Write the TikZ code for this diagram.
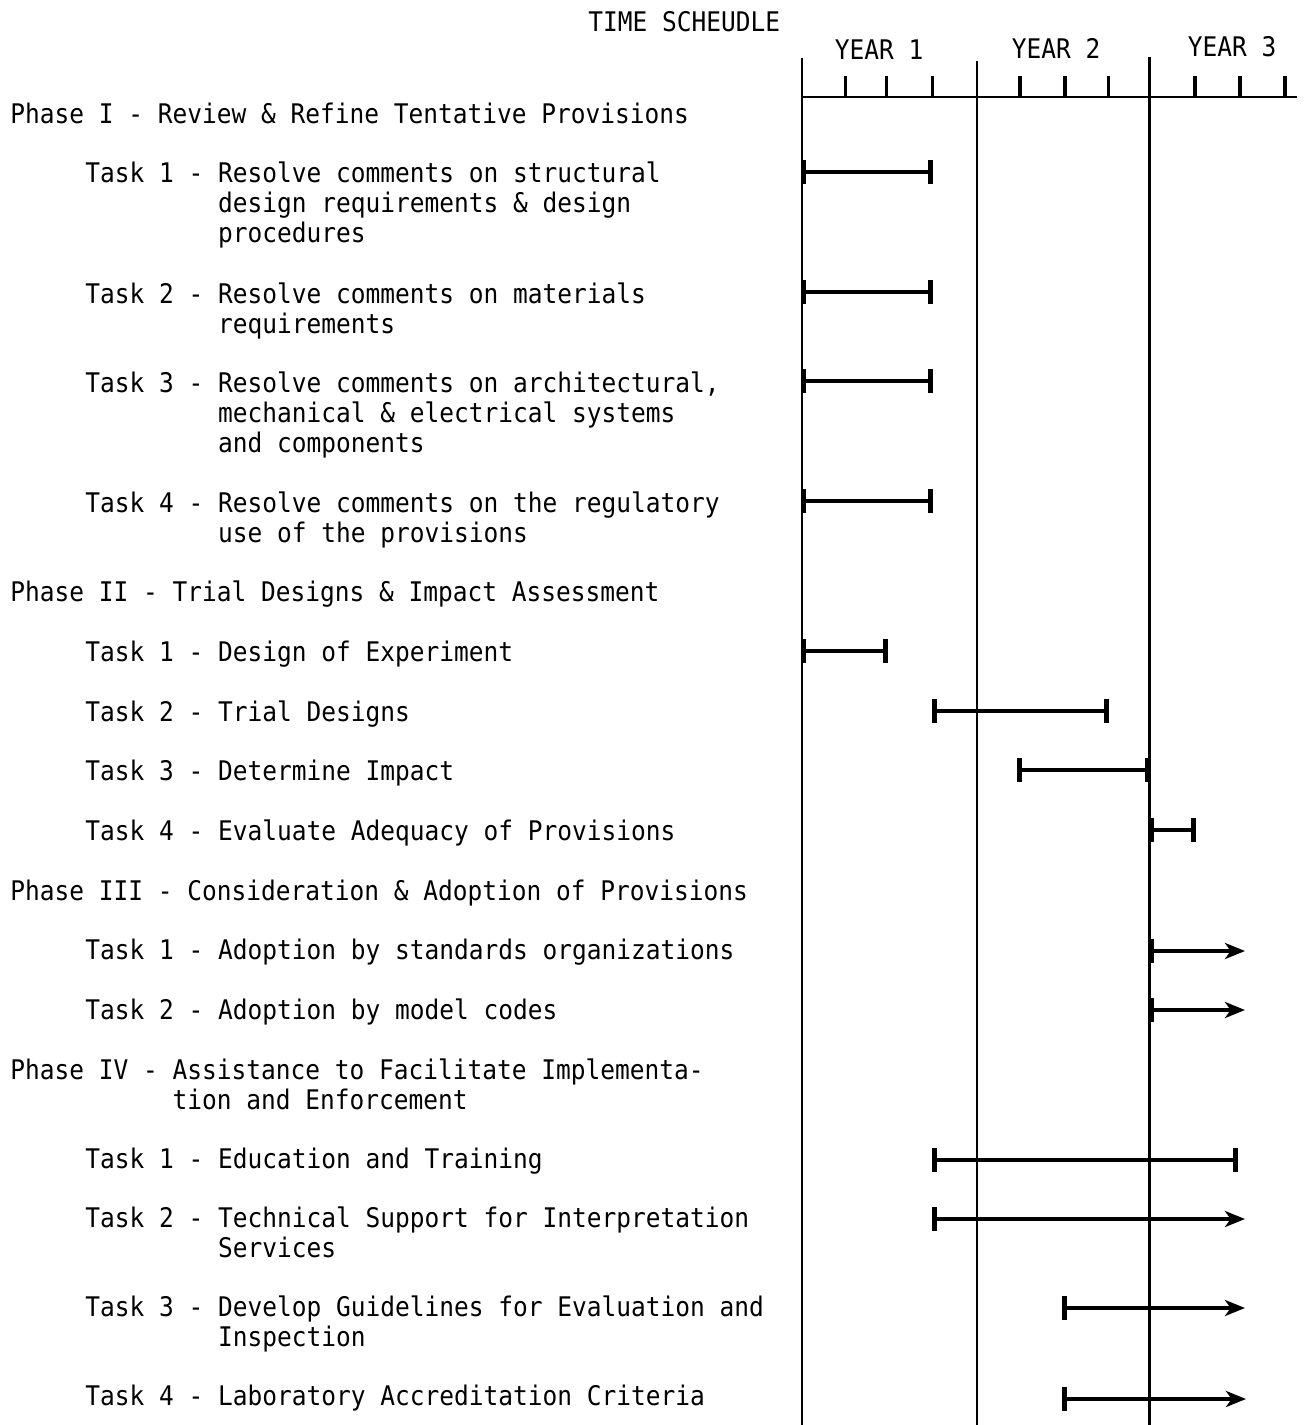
\documentclass[tikz,border=0pt]{standalone}
\usepackage{fontspec}
\newfontfamily\lgfont{DejaVu Sans Mono}[FakeStretch=0.9075]
\usetikzlibrary{arrows.meta}
\begin{document}
\begin{tikzpicture}[x=0.5pt,y=-0.5pt,
  txt/.style={anchor=base west, inner sep=0pt, font=\lgfont\fontsize{13.5pt}{15pt}\selectfont},
  ylab/.style={anchor=base, inner sep=0pt, font=\lgfont\fontsize{13.5pt}{15pt}\selectfont},
  gridline/.style={line width=1.2pt},
  tick/.style={line width=1.7pt},
  bar/.style={line width=2.3pt},
  capbar/.style={bar, {Bar[width=12pt,line width=2.3pt]}-{Bar[width=12pt,line width=2.3pt]}},
  caparr/.style={bar, {Bar[width=12pt,line width=2.3pt]}-{Stealth[length=10pt,width=8pt,inset=2.8pt]}},
]
\useasboundingbox (0,0) rectangle (1309,1425);

% header
\node[txt] (title) at (588,31) {TIME SCHEUDLE};
\node[ylab] (y1) at (879,59) {YEAR 1};
\node[ylab] (y2) at (1056,58) {YEAR 2};
\node[ylab] (y3) at (1232,56) {YEAR 3};

% grid
\draw[gridline] (801.7,58) -- (801.7,1425);
\draw[gridline] (976.7,61) -- (976.7,1425);
\draw[gridline] (1149.5,57) -- (1149.5,1425);
\draw[gridline] (801.7,97) -- (1297,97);
\foreach \x in {845.7,886.7,932.3,1020,1065,1108.3,1195,1240,1285}
  \draw[tick] (\x,76) -- (\x,97);

% Phase I
\node[txt] (p1) at (10,123) {Phase I - Review \& Refine Tentative Provisions};
\node[txt] (p1t1a) at (85,182) {Task 1 - Resolve comments on structural};
\node[txt] (p1t1b) at (85,212) {\hphantom{Task 1 - }design requirements \& design};
\node[txt] (p1t1c) at (85,242) {\hphantom{Task 1 - }procedures};
\node[txt] (p1t2a) at (85,303) {Task 2 - Resolve comments on materials};
\node[txt] (p1t2b) at (85,333) {\hphantom{Task 2 - }requirements};
\node[txt] (p1t3a) at (85,392) {Task 3 - Resolve comments on architectural,};
\node[txt] (p1t3b) at (85,422) {\hphantom{Task 3 - }mechanical \& electrical systems};
\node[txt] (p1t3c) at (85,452) {\hphantom{Task 3 - }and components};
\node[txt] (p1t4a) at (85,512) {Task 4 - Resolve comments on the regulatory};
\node[txt] (p1t4b) at (85,542) {\hphantom{Task 4 - }use of the provisions};

% Phase II
\node[txt] (p2) at (10,601) {Phase II - Trial Designs \& Impact Assessment};
\node[txt] (p2t1) at (85,661) {Task 1 - Design of Experiment};
\node[txt] (p2t2) at (85,721) {Task 2 - Trial Designs};
\node[txt] (p2t3) at (85,780) {Task 3 - Determine Impact};
\node[txt] (p2t4) at (85,840) {Task 4 - Evaluate Adequacy of Provisions};

% Phase III
\node[txt] (p3) at (10,900) {Phase III - Consideration \& Adoption of Provisions};
\node[txt] (p3t1) at (85,959) {Task 1 - Adoption by standards organizations};
\node[txt] (p3t2) at (85,1019) {Task 2 - Adoption by model codes};

% Phase IV
\node[txt] (p4a) at (10,1079) {Phase IV - Assistance to Facilitate Implementa-};
\node[txt] (p4b) at (10,1109) {\hphantom{Phase IV - }tion and Enforcement};
\node[txt] (p4t1) at (85,1168) {Task 1 - Education and Training};
\node[txt] (p4t2a) at (85,1227) {Task 2 - Technical Support for Interpretation};
\node[txt] (p4t2b) at (85,1257) {\hphantom{Task 2 - }Services};
\node[txt] (p4t3a) at (85,1316) {Task 3 - Develop Guidelines for Evaluation and};
\node[txt] (p4t3b) at (85,1346) {\hphantom{Task 3 - }Inspection};
\node[txt] (p4t4) at (85,1405) {Task 4 - Laboratory Accreditation Criteria};

% bars
\draw[capbar] (801.7,172) -- (933,172);
\draw[capbar] (801.7,292) -- (933,292);
\draw[capbar] (801.7,381) -- (933,381);
\draw[capbar] (801.7,501) -- (933,501);
\draw[capbar] (801.7,651) -- (888,651);
\draw[capbar] (932,711) -- (1109,711);
\draw[capbar] (1017,770) -- (1149.5,770);
\draw[capbar] (1149.5,830) -- (1196,830);
\draw[caparr] (1149.5,951) -- (1245,951);
\draw[caparr] (1149.5,1010) -- (1245,1010);
\draw[capbar] (932,1160) -- (1238,1160);
\draw[caparr] (932,1219) -- (1245,1219);
\draw[caparr] (1062,1308) -- (1245,1308);
\draw[caparr] (1062,1399) -- (1246,1399);
\end{tikzpicture}
\end{document}
